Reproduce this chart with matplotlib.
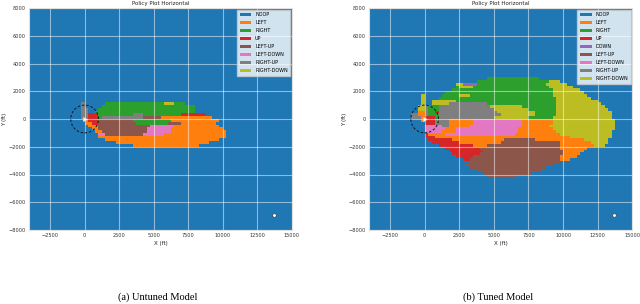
import numpy as np
import matplotlib.pyplot as plt
from matplotlib.colors import ListedColormap
from matplotlib.patches import Patch, Circle

acciones = ['NOOP', 'LEFT', 'RIGHT', 'UP', 'DOWN', 'LEFT-UP', 'LEFT-DOWN', 'RIGHT-UP', 'RIGHT-DOWN']
codigos = 'NLRUDABCE'
colores = ['#1f77b4', '#ff7f0e', '#2ca02c', '#d62728', '#9467bd',
           '#8c564b', '#e377c2', '#7f7f7f', '#bcbd22']

# malla de la politica (pies)
celda_x = 250
celda_y = 200
x_bordes = np.arange(-1250, 14000 + 1, celda_x)
y_bordes = np.arange(-4400, 3200 + 1, celda_y)

radio_zona = 1000
objetivo_x = [13700]
objetivo_y = [-6900]

x_ticks = [-2500, 0, 2500, 5000, 7500, 10000, 12500, 15000]
y_ticks = [-8000, -6000, -4000, -2000, 0, 2000, 4000, 6000, 8000]

# filas: (y inferior, [(accion, x inicio, x fin), ...])
untuned_rows = [
    (1000, [('C', -250, 0), ('R', 1500, 7250), ('E', 5750, 6500)]),
    (800, [('C', -250, 0), ('R', 1250, 8000)]),
    (600, [('C', -250, 250), ('R', 1000, 8000)]),
    (400, [('C', -250, 250), ('R', 750, 8000)]),
    (200, [('C', -250, 250), ('U', 250, 1000), ('R', 1000, 7000), ('C', 3500, 4250), ('U', 7000, 8750)]),
    (0, [('C', -250, 250), ('U', 250, 1000), ('R', 1000, 1250), ('C', 1250, 4250), ('A', 4250, 5500), ('L', 5500, 9250)]),
    (-200, [('L', 0, 250), ('U', 250, 1000), ('A', 1000, 3500), ('R', 3500, 6250), ('L', 6250, 9750)]),
    (-400, [('L', 0, 500), ('U', 500, 1000), ('A', 1000, 3750), ('R', 3750, 6000), ('A', 6000, 7000), ('L', 7000, 9500)]),
    (-600, [('L', 250, 1000), ('A', 1000, 4750), ('B', 4750, 6500), ('L', 6500, 9750)]),
    (-800, [('L', 500, 1000), ('A', 1000, 4500), ('B', 4500, 6250), ('L', 6250, 10000)]),
    (-1000, [('L', 750, 1250), ('A', 1250, 4500), ('B', 4500, 6250), ('L', 6250, 10250)]),
    (-1200, [('B', 1000, 1500), ('A', 1500, 4250), ('B', 4250, 5750), ('L', 5750, 10250)]),
    (-1400, [('L', 1000, 10250)]),
    (-1600, [('L', 1500, 9750)]),
    (-1800, [('L', 2250, 9000)]),
    (-2000, [('L', 3500, 8250)]),
]

tuned_rows = [
    (2800, [('R', 4500, 8250)]),
    (2600, [('R', 3750, 9000), ('E', 9000, 9750)]),
    (2400, [('E', 2250, 2750), ('D', 2750, 3750), ('R', 3750, 8750), ('E', 8750, 10250)]),
    (2200, [('R', 2250, 9000), ('E', 2500, 3500), ('E', 9000, 10750)]),
    (2000, [('R', 2000, 9250), ('E', 9250, 11250)]),
    (1800, [('R', 1500, 9250), ('E', 9250, 11500)]),
    (1600, [('E', -250, 0), ('R', 1250, 9250), ('E', 2500, 3250), ('E', 9250, 11750)]),
    (1400, [('E', -250, 0), ('R', 1000, 9500), ('E', 9500, 12000)]),
    (1200, [('E', -250, 0), ('E', 500, 2250), ('R', 2250, 9500), ('E', 9500, 12500)]),
    (1000, [('E', -250, 0), ('E', 500, 1750), ('C', 1750, 4500), ('R', 4500, 9500), ('E', 9500, 12750)]),
    (800, [('E', -500, 0), ('C', 0, 250), ('R', 250, 1000), ('C', 1000, 4750), ('E', 4750, 7000), ('R', 7000, 9500), ('E', 9500, 13000)]),
    (600, [('E', -500, 0), ('C', 0, 250), ('R', 250, 1000), ('C', 1000, 5000), ('E', 5000, 7500), ('R', 7500, 9500), ('E', 9500, 13250)]),
    (400, [('L', -500, 0), ('C', 0, 250), ('R', 250, 750), ('U', 750, 1000), ('C', 1000, 5250), ('E', 5250, 8000), ('R', 8000, 9500), ('E', 9500, 13500)]),
    (200, [('C', -1000, -500), ('L', -500, 0), ('C', 0, 250), ('R', 250, 1000), ('C', 1000, 5500), ('E', 5500, 8000), ('R', 8000, 9500), ('E', 9500, 13500)]),
    (0, [('C', -1000, -250), ('L', -250, 0), ('U', 0, 750), ('R', 750, 1000), ('C', 1000, 5000), ('E', 5000, 7500), ('R', 7500, 9250), ('E', 9250, 13500)]),
    (-200, [('L', -250, 0), ('U', 0, 750), ('C', 750, 1750), ('L', 1750, 3500), ('B', 3500, 7000), ('L', 7000, 9250), ('E', 9250, 13750)]),
    (-400, [('U', 0, 750), ('C', 750, 1750), ('L', 1750, 3500), ('B', 3500, 7000), ('L', 7000, 9250), ('E', 9250, 13750)]),
    (-600, [('B', 0, 1250), ('C', 1250, 1750), ('L', 1750, 3250), ('B', 3250, 7000), ('L', 7000, 9000), ('E', 9000, 13750)]),
    (-800, [('B', 0, 1500), ('L', 1500, 2250), ('B', 2250, 6750), ('L', 6750, 9250), ('E', 9250, 13750)]),
    (-1000, [('B', 0, 1250), ('L', 1250, 2250), ('B', 2250, 6750), ('L', 6750, 9500), ('E', 9500, 13500)]),
    (-1200, [('U', 0, 250), ('L', 250, 1500), ('B', 1500, 6500), ('L', 6500, 9750), ('E', 9750, 13500)]),
    (-1400, [('U', 0, 750), ('L', 750, 10500), ('E', 10500, 13500)]),
    (-1600, [('U', 250, 2000), ('L', 2000, 5750), ('A', 5750, 8000), ('L', 8000, 11500), ('E', 11500, 13250)]),
    (-1800, [('U', 500, 2500), ('L', 2500, 5500), ('A', 5500, 9750), ('L', 9750, 12000), ('E', 12000, 13250)]),
    (-2000, [('U', 1000, 3500), ('L', 3500, 4500), ('A', 4500, 9750), ('L', 9750, 12250), ('E', 12250, 13000)]),
    (-2200, [('U', 1500, 4000), ('A', 4000, 9750), ('L', 9750, 11750)]),
    (-2400, [('U', 1750, 4250), ('A', 4250, 10000), ('L', 10000, 11500)]),
    (-2600, [('U', 2000, 4000), ('A', 4000, 10000), ('L', 10000, 11250)]),
    (-2800, [('U', 2250, 3500), ('A', 3500, 9750), ('L', 9750, 11000)]),
    (-3000, [('U', 2750, 3250), ('A', 3250, 9750), ('L', 9750, 10500)]),
    (-3200, [('A', 3250, 9750)]),
    (-3400, [('A', 3000, 9250)]),
    (-3600, [('A', 3250, 8750)]),
    (-3800, [('A', 3750, 8500)]),
    (-4000, [('A', 4250, 7750)]),
    (-4200, [('A', 4500, 6500)]),
]

untuned_legend = ['NOOP', 'LEFT', 'RIGHT', 'UP', 'LEFT-UP', 'LEFT-DOWN', 'RIGHT-UP', 'RIGHT-DOWN']
tuned_legend = acciones


def armarMalla(filas):
    malla = np.zeros((len(y_bordes) - 1, len(x_bordes) - 1))
    for y0, tramos in filas:
        i = int((y0 - y_bordes[0]) // celda_y)
        for c, x0, x1 in tramos:
            j0 = int((x0 - x_bordes[0]) // celda_x)
            j1 = int((x1 - x_bordes[0]) // celda_x)
            malla[i, j0:j1] = codigos.index(c)
    return malla


def graficarPolitica(ax, filas, leyenda, subtitulo):
    ax.set_facecolor(colores[0])
    ax.pcolormesh(x_bordes, y_bordes, armarMalla(filas), cmap=ListedColormap(colores),
                  vmin=-0.5, vmax=len(colores) - 0.5, shading='flat', zorder=1)

    ax.add_patch(Circle((0, 0), radio_zona, fill=False, ls=(0, (2.5, 2)), lw=0.7,
                        color='#111122', zorder=3))
    ax.plot([0], [0], marker='>', ms=3, mfc='white', mec='#dddddd', mew=0.3, zorder=4)
    ax.plot(objetivo_x, objetivo_y, marker='o', ls='none', ms=2.6, mfc='white',
            mec='#333333', mew=0.4, zorder=4)

    ax.set_xlim(-4000, 15000)
    ax.set_ylim(-8000, 8000)
    ax.set_xticks(x_ticks)
    ax.set_yticks(y_ticks)
    ax.tick_params(labelsize=3.6, length=0, pad=2.5, colors='#333333')
    ax.grid(True, color='white', alpha=0.5, lw=0.8)
    for s in ax.spines.values():
        s.set_color('#e0e0e0')
        s.set_linewidth(0.8)

    ax.set_title('Policy Plot Horizontal', fontsize=4, pad=2, color='#222222')
    ax.set_xlabel('X (ft)', fontsize=4, labelpad=1.5, color='#222222')
    ax.set_ylabel('Y (ft)', fontsize=4, labelpad=1, color='#222222')

    manijas = [Patch(facecolor=colores[acciones.index(a)], label=a) for a in leyenda]
    ax.legend(handles=manijas, loc='upper right', fontsize=3.5, handlelength=2.4,
              handleheight=0.8, labelspacing=0.62, borderpad=0.5, borderaxespad=0.35,
              framealpha=0.8, edgecolor='#cccccc', fancybox=False)

    # subtitulo debajo del panel
    caja = ax.get_position()
    ax.figure.text((caja.x0 + caja.x1) / 2 - 0.005, 7 / 304, subtitulo, ha='center',
                   va='center', fontsize=7.5, family='Liberation Serif')


fig = plt.figure(figsize=(6.4, 3.04), dpi=100)
ax1 = fig.add_axes([29.3 / 640, 74 / 304, 262.7 / 640, 222 / 304])
ax2 = fig.add_axes([369.3 / 640, 74 / 304, 263 / 640, 222 / 304])

graficarPolitica(ax1, untuned_rows, untuned_legend, '(a) Untuned Model')
graficarPolitica(ax2, tuned_rows, tuned_legend, '(b) Tuned Model')

fig.savefig('out.png', dpi=100)
